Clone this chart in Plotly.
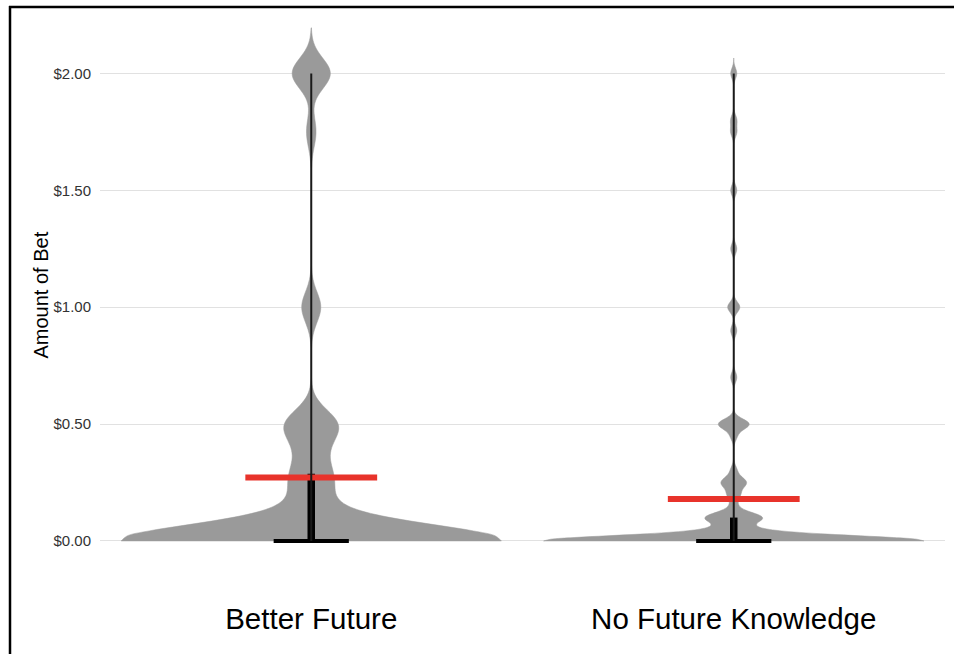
import numpy as np
import plotly.graph_objects as go

# Two experimental conditions shown side by side
groups = ["Better Future", "No Future Knowledge"]

# Bet amounts (dollars) and how many participants placed each amount
better_amounts = [0.00, 0.05, 0.10, 0.15, 0.20, 0.25, 0.30, 0.40, 0.50, 1.00, 1.75, 2.00]
better_counts = [38, 1, 3, 1, 1, 2, 2, 2, 5, 2, 1, 4]

nofuture_amounts = [0.00, 0.02, 0.05, 0.10, 0.15, 0.20, 0.25, 0.30, 0.45, 0.50,
                    0.70, 0.90, 1.00, 1.25, 1.50, 1.75, 1.80, 2.00]
nofuture_counts = [60, 3, 5, 9, 1, 2, 4, 1, 1, 5, 1, 1, 2, 1, 1, 1, 1, 1]

y_ticks = [0.0, 0.5, 1.0, 1.5, 2.0]
y_tick_labels = ["$0.00", "$0.50", "$1.00", "$1.50", "$2.00"]

# Kernel bandwidth per condition (dollars)
bandwidths = [0.065, 0.022]

samples = [
    np.repeat(better_amounts, better_counts),
    np.repeat(nofuture_amounts, nofuture_counts),
]

VIOLIN_GREY = "#9a9a9a"
MEAN_RED = "#e8332b"
FONT = "Liberation Sans, Arial, sans-serif"

fig = go.Figure()
shapes = []

for pos, bets, bw in zip([1, 2], samples, bandwidths):
    fig.add_trace(go.Violin(
        x=np.full(len(bets), pos),
        y=bets,
        bandwidth=bw,
        spanmode="manual",
        span=[bets.min(), bets.max() + 3 * bw],
        scalemode="width",
        width=0.9,
        points=False,
        box_visible=False,
        meanline_visible=False,
        fillcolor=VIOLIN_GREY,
        line=dict(color=VIOLIN_GREY, width=0.5),
        hoverinfo="skip",
        showlegend=False,
    ))

    q1, med, q3 = np.percentile(bets, [25, 50, 75])
    mean = bets.mean()

    # interquartile bar
    shapes.append(dict(type="line", xref="x", yref="y", x0=pos, x1=pos, y0=q1, y1=q3,
                       line=dict(color="black", width=7.5)))
    # median tick
    shapes.append(dict(type="line", xref="x", yref="y", x0=pos - 0.089, x1=pos + 0.089,
                       y0=med, y1=med, line=dict(color="black", width=4)))
    # mean marker
    shapes.append(dict(type="line", xref="x", yref="y", x0=pos - 0.156, x1=pos + 0.156,
                       y0=mean, y1=mean, line=dict(color=MEAN_RED, width=6)))
    # full range
    shapes.append(dict(type="line", xref="x", yref="y", x0=pos, x1=pos,
                       y0=bets.min(), y1=bets.max(), line=dict(color="#1a1a1a", width=2)))

# outer frame (top and left edges)
W, H = 954, 654
ML, MR, MT, MB = 100, 9, 15, 85
pw, ph = W - ML - MR, H - MT - MB


def px_x(p):
    return (p - ML) / pw


def px_y(p):
    return 1 - (p - MT) / ph


shapes.append(dict(type="line", xref="paper", yref="paper",
                   x0=px_x(9), x1=px_x(956), y0=px_y(7), y1=px_y(7),
                   line=dict(color="black", width=2.5)))
shapes.append(dict(type="line", xref="paper", yref="paper",
                   x0=px_x(10), x1=px_x(10), y0=px_y(6), y1=px_y(656),
                   line=dict(color="black", width=2.5)))

fig.update_layout(
    width=W, height=H,
    margin=dict(l=ML, r=MR, t=MT, b=MB),
    paper_bgcolor="white",
    plot_bgcolor="white",
    font=dict(family=FONT),
    shapes=shapes,
    xaxis=dict(
        range=[0.5, 2.5],
        tickvals=[1, 2],
        ticktext=groups,
        showgrid=False, zeroline=False, showline=False, ticks="",
        tickfont=dict(size=29.5, color="black", family=FONT),
        ticklabelstandoff=29,
    ),
    yaxis=dict(
        range=[-0.12, 2.25],
        tickvals=y_ticks,
        ticktext=y_tick_labels,
        showgrid=True, gridcolor="#e1e1e1", gridwidth=1,
        zeroline=False, showline=False, ticks="",
        tickfont=dict(size=15, color="#333333", family=FONT),
        ticklabelstandoff=8,
    ),
    annotations=[dict(
        text="Amount of Bet", textangle=-90,
        xref="paper", yref="paper", x=px_x(40), y=px_y(295.5),
        xanchor="center", yanchor="middle", showarrow=False,
        font=dict(size=20, color="black", family=FONT),
    )],
)

fig.write_html("out.html")
